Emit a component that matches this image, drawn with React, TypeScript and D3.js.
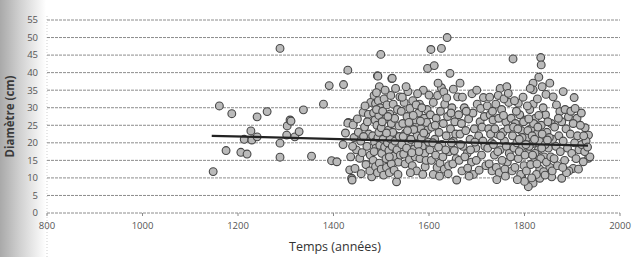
import React from "react";
import * as d3 from "d3";

// [année, diamètre], grouped by period
const pts1100s: [number, number][] = [
  [1148, 11.8], [1161, 30.5], [1175, 17.8], [1187, 28.3], [1206, 17.3], [1213, 21.0], [1219, 16.8],
  [1227, 23.4], [1229, 20.8], [1240, 27.4], [1240, 21.7], [1261, 28.9], [1288, 46.9], [1288, 19.9],
  [1288, 15.9], [1303, 24.8], [1302, 22.2], [1309, 26.5], [1311, 26.2], [1319, 21.7], [1328, 23.2],
  [1337, 29.4], [1354, 16.2], [1379, 31.0], [1391, 36.3], [1396, 14.9], [1407, 14.6], [1420, 19.5],
  [1421, 36.6],
];

const pts1400s: [number, number][] = [
  [1430, 40.7], [1431, 25.8], [1441, 25.6], [1430, 25.6], [1441, 25.1], [1434, 12.3], [1445, 12.7],
  [1438, 9.9], [1439, 9.4], [1455, 15.6], [1462, 28.7], [1473, 28.1], [1480, 10.3], [1443, 21.5],
  [1448, 18.0], [1452, 23.0], [1457, 20.5], [1460, 17.2], [1465, 24.5], [1468, 13.8], [1470, 19.0],
  [1474, 22.5], [1477, 16.5], [1478, 31.5], [1466, 30.5], [1450, 26.8], [1458, 11.2], [1436, 16.0],
  [1440, 19.0], [1425, 22.8], [1463, 21.8], [1471, 26.0], [1476, 12.0],
  [1492, 39.1], [1493, 39.0], [1496, 36.0], [1499, 45.2], [1485, 33.5], [1488, 31.2], [1490, 34.3],
  [1494, 32.0], [1498, 30.0], [1484, 28.5], [1487, 26.5], [1491, 25.0], [1495, 27.8], [1482, 22.0],
  [1486, 20.2], [1489, 18.5], [1493, 21.5], [1497, 19.3], [1483, 15.0], [1488, 13.2], [1492, 11.5],
  [1496, 14.2], [1485, 17.5], [1495, 23.0], [1490, 29.5],
];

const pts1500s: [number, number][] = [
  [1522, 38.3], [1523, 38.4], [1500, 24.3], [1503, 29.0], [1506, 32.5], [1509, 26.8], [1512, 30.8],
  [1515, 23.6], [1518, 28.2], [1521, 25.5], [1525, 31.0], [1528, 27.0], [1531, 22.0], [1534, 29.5],
  [1537, 24.8], [1539, 33.1], [1501, 17.0], [1504, 21.0], [1507, 18.8], [1510, 15.5], [1513, 20.0],
  [1516, 17.8], [1519, 21.2], [1523, 19.0], [1526, 16.2], [1529, 20.5], [1533, 18.0], [1536, 14.5],
  [1538, 21.8], [1500, 12.5], [1505, 10.8], [1511, 13.0], [1517, 11.5], [1521, 14.0], [1527, 12.2],
  [1532, 8.9], [1535, 11.0], [1502, 26.0], [1514, 27.5], [1520, 33.5], [1530, 35.5], [1508, 35.0],
  [1524, 23.0], [1511, 22.8], [1540, 16.5], [1517, 16.0],
  [1556, 34.6], [1580, 31.0], [1588, 35.0], [1592, 13.2], [1597, 41.2], [1542, 29.0], [1545, 25.5],
  [1548, 31.5], [1551, 22.8], [1554, 27.5], [1557, 20.0], [1560, 29.8], [1563, 24.2], [1566, 32.0],
  [1569, 18.2], [1572, 26.5], [1575, 22.0], [1578, 28.5], [1583, 24.0], [1586, 19.0], [1590, 27.0],
  [1593, 22.5], [1596, 29.5], [1599, 20.2], [1543, 19.5], [1547, 16.8], [1550, 14.0], [1553, 18.5],
  [1559, 15.2], [1562, 21.0], [1565, 13.5], [1568, 23.8], [1571, 16.0], [1574, 12.0], [1577, 19.5],
  [1581, 15.5], [1584, 21.5], [1587, 11.0], [1591, 17.0], [1594, 15.0], [1598, 23.8], [1546, 21.8],
  [1555, 23.5], [1561, 11.5], [1567, 27.8], [1573, 30.8], [1579, 17.5], [1585, 30.0], [1595, 25.8],
  [1544, 33.0], [1552, 36.0], [1576, 34.0], [1558, 25.8], [1589, 22.8], [1564, 17.2], [1582, 26.2],
];

const pts1600s: [number, number][] = [
  [1600, 33.6], [1604, 46.6], [1626, 46.9], [1638, 50.0], [1611, 42.0], [1644, 39.8], [1626, 35.7],
  [1651, 35.3], [1609, 11.0], [1658, 9.4], [1660, 33.1], [1603, 28.0], [1606, 24.5], [1609, 31.5],
  [1612, 21.0], [1615, 27.0], [1618, 33.5], [1621, 23.0], [1624, 29.0], [1627, 19.5], [1630, 25.5],
  [1633, 31.0], [1636, 22.0], [1639, 27.5], [1642, 17.5], [1645, 24.0], [1648, 30.0], [1651, 20.5],
  [1654, 26.0], [1657, 15.5], [1602, 18.0], [1605, 15.0], [1608, 20.0], [1614, 16.5], [1617, 13.0],
  [1620, 18.8], [1623, 14.2], [1629, 16.0], [1632, 12.5], [1635, 18.0], [1641, 13.5], [1647, 20.0],
  [1650, 14.0], [1653, 17.8], [1656, 22.5], [1619, 37.0], [1631, 34.5], [1613, 25.0], [1637, 32.8],
  [1646, 28.5], [1622, 10.5], [1640, 11.2],
  [1665, 37.0], [1714, 32.9], [1662, 28.0], [1665, 22.5], [1668, 25.5], [1671, 19.0], [1674, 30.0],
  [1677, 23.5], [1680, 17.0], [1683, 26.8], [1686, 21.0], [1689, 14.5], [1692, 28.5], [1695, 24.0],
  [1698, 18.5], [1701, 31.0], [1704, 22.0], [1707, 26.0], [1710, 16.5], [1713, 20.5], [1716, 27.5],
  [1719, 13.5], [1663, 15.0], [1669, 12.0], [1675, 16.0], [1681, 12.8], [1687, 18.0], [1693, 11.0],
  [1699, 15.0], [1705, 12.2], [1711, 24.5], [1717, 19.0], [1670, 33.0], [1690, 34.0], [1700, 35.0],
  [1708, 29.8], [1678, 29.0], [1696, 20.2], [1684, 10.5], [1666, 19.5],
  [1749, 35.5], [1763, 36.0], [1722, 30.5], [1725, 24.0], [1728, 28.0], [1731, 20.0], [1734, 26.5],
  [1737, 16.5], [1740, 31.0], [1743, 22.5], [1746, 27.0], [1749, 18.0], [1752, 29.5], [1755, 23.0],
  [1758, 20.5], [1761, 26.0], [1764, 14.5], [1767, 31.5], [1723, 18.5], [1726, 14.0], [1729, 22.5],
  [1732, 12.0], [1735, 19.5], [1738, 24.0], [1741, 13.0], [1744, 17.5], [1747, 11.5], [1750, 22.0],
  [1753, 15.0], [1756, 27.8], [1759, 12.5], [1762, 19.0], [1765, 24.0], [1768, 17.0], [1727, 33.0],
  [1745, 33.5], [1757, 32.5], [1733, 29.0], [1760, 10.5], [1742, 9.5], [1766, 34.1],
];

const pts1700s: [number, number][] = [
  [1776, 43.9], [1834, 44.3], [1835, 42.2], [1830, 38.7], [1818, 37.0], [1853, 37.0], [1837, 36.0],
  [1818, 35.1], [1787, 31.3], [1818, 31.0], [1818, 8.5], [1794, 10.3], [1832, 9.9], [1808, 7.5],
  [1857, 10.3],
  [1772, 27.0], [1775, 22.0], [1778, 18.5], [1781, 25.5], [1784, 20.0], [1787, 15.5], [1790, 28.0],
  [1793, 23.5], [1796, 19.0], [1799, 13.5], [1802, 26.5], [1805, 21.5], [1808, 17.0], [1811, 29.5],
  [1814, 24.0], [1817, 19.8], [1820, 14.5], [1823, 27.0], [1826, 22.5], [1829, 18.0], [1832, 12.5],
  [1835, 25.0], [1838, 20.5], [1841, 16.0], [1844, 28.0], [1847, 23.0], [1850, 18.5], [1853, 13.0],
  [1856, 25.5], [1859, 21.0],
  [1771, 16.0], [1774, 12.0], [1777, 24.5], [1780, 13.0], [1783, 29.0], [1786, 24.0], [1789, 17.5],
  [1792, 11.0], [1795, 21.5], [1798, 26.0], [1801, 16.5], [1804, 12.0], [1807, 23.5], [1810, 19.0],
  [1813, 13.8], [1816, 22.0], [1819, 25.5], [1822, 17.0], [1825, 11.0], [1828, 24.5], [1831, 20.5],
  [1834, 15.5], [1837, 22.5], [1840, 11.8], [1843, 19.5], [1846, 14.5], [1849, 26.0], [1852, 21.5],
  [1855, 16.0], [1858, 12.0],
  [1779, 32.0], [1797, 33.0], [1806, 30.5], [1827, 32.5], [1839, 30.0], [1845, 33.8], [1812, 35.5],
  [1800, 9.0], [1815, 10.0], [1826, 14.0], [1843, 10.8], [1785, 9.5], [1803, 19.5], [1821, 21.0],
  [1836, 18.5], [1848, 20.8], [1809, 26.8], [1789, 21.0], [1830, 27.8], [1817, 16.5],
];

const pts1800s: [number, number][] = [
  [1860, 33.1], [1867, 30.8], [1874, 28.9], [1881, 34.6], [1904, 32.9], [1892, 27.4], [1910, 27.0],
  [1927, 24.3], [1934, 22.2], [1934, 15.6], [1937, 16.0], [1923, 14.6], [1902, 12.7], [1878, 9.9],
  [1863, 24.5], [1866, 19.0], [1869, 13.5], [1872, 22.0], [1875, 17.5], [1878, 26.0], [1881, 20.5],
  [1884, 15.0], [1887, 24.0], [1890, 18.5], [1893, 12.0], [1896, 22.5], [1899, 17.0], [1902, 25.5],
  [1905, 20.0], [1908, 15.5], [1911, 22.0], [1914, 18.0], [1917, 25.0], [1920, 19.5], [1926, 17.5],
  [1929, 20.5], [1932, 18.8], [1862, 15.5], [1871, 27.0], [1885, 29.5], [1897, 29.0], [1913, 12.5],
  [1919, 28.5], [1888, 11.5], [1906, 29.8], [1924, 22.0], [1880, 13.0],
];

const trendYears = [1145, 1933];
const trendValues = [22.0, 19.2];

const yTicks = [0, 5, 10, 15, 20, 25, 30, 35, 40, 45, 50, 55];
const xTicks = [800, 1000, 1200, 1400, 1600, 1800, 2000];

const W = 635;
const H = 257;
const margin = { left: 47, right: 15, top: 20, bottom: 44 };

export default function App() {
  const x = d3.scaleLinear().domain([800, 2000]).range([margin.left, W - margin.right]);
  const y = d3.scaleLinear().domain([0, 55]).range([H - margin.bottom, margin.top]);

  const points = [...pts1100s, ...pts1400s, ...pts1500s, ...pts1600s, ...pts1700s, ...pts1800s];
  const trend = d3.line<number>()
    .x((d, i) => x(trendYears[i]))
    .y(d => y(d));

  const font = "'Open Sans', 'DejaVu Sans', sans-serif";

  return (
    <div style={{ position: "fixed", left: 0, top: 0 }}>
      <svg width={W} height={H} style={{ display: "block", background: "#fff" }}>
        <defs>
          <linearGradient id="scan" x1="0" x2="1" y1="0" y2="0">
            <stop offset="0" stopColor="#a9a9a9" />
            <stop offset="0.45" stopColor="#d2d2d2" />
            <stop offset="1" stopColor="#ffffff" />
          </linearGradient>
        </defs>
        <rect x={0} y={0} width={46} height={H} fill="url(#scan)" />
        <line x1={x(800)} x2={x(800)} y1={y(55) - 4} y2={H} stroke="#cfcfcf" strokeDasharray="1 2" />

        {yTicks.map(t => (
          <g key={t}>
            <line x1={x(800)} x2={x(2000)} y1={y(t)} y2={y(t)}
              stroke="#8c8c8c" strokeWidth={1} strokeDasharray="3 1" />
            <text x={38} y={y(t)} dy="0.35em" textAnchor="end" fontSize={9.5}
              fontFamily={font} fill="#555">{t}</text>
          </g>
        ))}

        {xTicks.map(t => (
          <g key={t}>
            <line x1={x(t)} x2={x(t)} y1={y(0)} y2={y(0) + 3} stroke="#8a8a8a" />
            <text x={x(t)} y={y(0) + 16} textAnchor="middle" fontSize={9.5}
              fontFamily={font} fill="#555">{t}</text>
          </g>
        ))}

        {points.map((p, i) => (
          <circle key={i} cx={x(p[0])} cy={y(p[1])} r={3.9}
            fill="#bababa" stroke="#474747" strokeWidth={1.1} />
        ))}

        <path d={trend(trendValues) || ""} fill="none" stroke="#222" strokeWidth={2.2} />

        <text x={335} y={251} textAnchor="middle" fontSize={12.5} fontFamily={font}
          fill="#333">Temps (années)</text>
        <text transform={`translate(14,${y(27.5)}) rotate(-90)`} textAnchor="middle"
          fontSize={11.5} fontWeight="bold" fontFamily={font} fill="#3a3a3a">Diamètre (cm)</text>
      </svg>
    </div>
  );
}
